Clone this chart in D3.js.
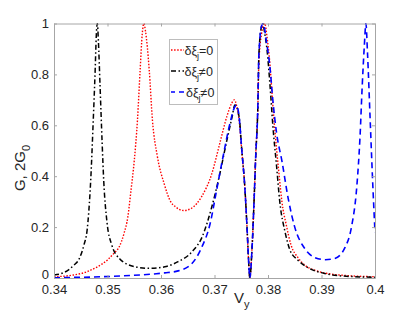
<!DOCTYPE html>
<html>
<head>
<meta charset="utf-8">
<script src="https://cdn.jsdelivr.net/npm/d3@7"></script>
<style>
  body { margin: 0; background: #fff; }
  svg { display: block; font-family: "Liberation Sans", Arial, Helvetica, sans-serif; }
</style>
</head>
<body>
<svg id="graph"></svg>
<script>
// tick values and labels
var xTicks = [0.34, 0.35, 0.36, 0.37, 0.38, 0.39, 0.4];
var xTickLabels = ["0.34", "0.35", "0.36", "0.37", "0.38", "0.39", "0.4"];
var yTicks = [0, 0.2, 0.4, 0.6, 0.8, 1];
var yTickLabels = ["0", "0.2", "0.4", "0.6", "0.8", "1"];

var redPts = [
  [0.34, 0.005], [0.3437, 0.012], [0.3462, 0.025], [0.3481, 0.044], [0.3500, 0.071],
  [0.3512, 0.097], [0.3522, 0.123], [0.3531, 0.176], [0.3538, 0.24], [0.3544, 0.346],
  [0.3550, 0.46], [0.3556, 0.62], [0.3561, 0.817], [0.3565, 0.96], [0.3568, 1.0],
  [0.3571, 0.97], [0.3578, 0.817], [0.3584, 0.62], [0.3593, 0.48], [0.3606, 0.37],
  [0.3618, 0.30], [0.3627, 0.28], [0.3642, 0.265], [0.3657, 0.274], [0.3676, 0.32],
  [0.3695, 0.41], [0.3710, 0.53], [0.3723, 0.634], [0.3732, 0.686], [0.3737, 0.70],
  [0.3741, 0.68], [0.3746, 0.62], [0.3751, 0.50], [0.3757, 0.346], [0.3761, 0.19],
  [0.3764, 0.058], [0.3766, 0.0], [0.3770, 0.11], [0.3774, 0.306], [0.3777, 0.477],
  [0.3781, 0.67], [0.3783, 0.85], [0.3788, 0.96], [0.3792, 0.995], [0.3794, 1.0],
  [0.3798, 0.95], [0.3804, 0.83], [0.3809, 0.68], [0.3815, 0.53], [0.3821, 0.40],
  [0.3826, 0.30], [0.3834, 0.21], [0.3843, 0.13], [0.3856, 0.08], [0.3869, 0.05],
  [0.3888, 0.03], [0.3916, 0.016], [0.3944, 0.01], [0.4, 0.005]
];

var blackPts = [
  [0.34, 0.012], [0.3419, 0.022], [0.3437, 0.05], [0.3447, 0.075], [0.3456, 0.13],
  [0.3462, 0.19], [0.3465, 0.26], [0.3469, 0.40], [0.3473, 0.60], [0.3477, 0.82],
  [0.3479, 0.95], [0.3481, 1.0], [0.3483, 0.93], [0.3486, 0.76], [0.3490, 0.53],
  [0.3493, 0.38], [0.3499, 0.22], [0.3508, 0.13], [0.3523, 0.075], [0.3550, 0.045],
  [0.3579, 0.038], [0.3607, 0.044], [0.3632, 0.064], [0.3658, 0.103], [0.3677, 0.162],
  [0.3695, 0.28], [0.3710, 0.41], [0.3723, 0.54], [0.3733, 0.634], [0.3738, 0.68],
  [0.3746, 0.634], [0.3751, 0.503], [0.3757, 0.346], [0.3761, 0.19], [0.3764, 0.058],
  [0.3766, 0.0], [0.3770, 0.11], [0.3774, 0.306], [0.3777, 0.477], [0.3781, 0.673],
  [0.3783, 0.88], [0.3788, 0.99], [0.3790, 1.0], [0.3794, 0.96], [0.3798, 0.9],
  [0.3804, 0.75], [0.3809, 0.6], [0.3816, 0.44], [0.3822, 0.3], [0.3832, 0.18],
  [0.3841, 0.11], [0.3856, 0.07], [0.3875, 0.04], [0.3906, 0.018], [0.3938, 0.008],
  [0.4, 0.003]
];

var bluePts = [
  [0.34, 0.001], [0.3525, 0.008], [0.3587, 0.016], [0.3607, 0.02], [0.3632, 0.028],
  [0.3657, 0.055], [0.3676, 0.12], [0.3692, 0.215], [0.3704, 0.346], [0.3716, 0.477],
  [0.3729, 0.608], [0.3738, 0.673], [0.3741, 0.68], [0.3746, 0.634], [0.3751, 0.503],
  [0.3757, 0.346], [0.3761, 0.19], [0.3764, 0.058], [0.3766, 0.0], [0.3770, 0.11],
  [0.3774, 0.306], [0.3777, 0.477], [0.3781, 0.673], [0.3783, 0.88], [0.3788, 0.99],
  [0.3791, 1.0], [0.3797, 0.93], [0.3804, 0.82], [0.3809, 0.70], [0.3816, 0.57],
  [0.3826, 0.46], [0.3838, 0.31], [0.3850, 0.2], [0.3869, 0.115], [0.3888, 0.08],
  [0.3907, 0.072], [0.3925, 0.077], [0.3944, 0.12], [0.3956, 0.2], [0.3966, 0.36],
  [0.3972, 0.555], [0.3976, 0.75], [0.3980, 0.91], [0.3983, 1.0], [0.3986, 0.883],
  [0.3991, 0.62], [0.3996, 0.36], [0.4, 0.18]
];

var seriesNames = ["=0", "\u22600", "\u22600"];

function drawChart(){
    var w = 415, h = 313;
    var left = 54, right = 375, top = 23.5, bottom = 278;

    var svg = d3.select("#graph")
        .attr("width", w)
        .attr("height", h);

    var x = d3.scaleLinear().domain([0.34, 0.4]).range([left, right]);
    var y = d3.scaleLinear().domain([0, 1]).range([bottom, top]);

    svg.append("clipPath").attr("id", "plotClip")
        .append("rect")
        .attr("x", left).attr("y", top - 0.5)
        .attr("width", right - left).attr("height", bottom - top + 0.5);

    // curves
    var line = d3.line()
        .x(function(d){ return x(d[0]); })
        .y(function(d){ return y(d[1]); })
        .curve(d3.curveMonotoneX);

    var styles = [
        {pts: redPts,   color: "#ff0000", dash: "1.5,1.6", width: 1.4},
        {pts: blackPts, color: "#000000", dash: "5,2.5,1.5,2.5", width: 1.5},
        {pts: bluePts,  color: "#0000ff", dash: "6,4", width: 1.6}
    ];

    var curves = svg.append("g").attr("clip-path", "url(#plotClip)");
    styles.forEach(function(s){
        curves.append("path")
            .attr("d", line(s.pts))
            .attr("fill", "none")
            .attr("stroke", s.color)
            .attr("stroke-width", s.width)
            .attr("stroke-dasharray", s.dash);
    });

    // axes, MATLAB like box with inward ticks
    var axisColor = "#262626";
    var boxColor = "#a6a6a6";

    var gx = svg.append("g")
        .attr("transform", "translate(0," + bottom + ")")
        .call(d3.axisBottom(x).tickValues(xTicks).tickSize(-3).tickSizeOuter(0).tickPadding(7)
            .tickFormat(function(d, i){ return xTickLabels[i]; }));
    var gy = svg.append("g")
        .attr("transform", "translate(" + left + ",0)")
        .call(d3.axisLeft(y).tickValues(yTicks).tickSize(-3).tickSizeOuter(0).tickPadding(5)
            .tickFormat(function(d, i){ return yTickLabels[i]; }));
    var gt = svg.append("g")
        .attr("transform", "translate(0," + top + ")")
        .call(d3.axisTop(x).tickValues(xTicks).tickSize(-3).tickSizeOuter(0).tickFormat(""));
    var gr = svg.append("g")
        .attr("transform", "translate(" + right + ",0)")
        .call(d3.axisRight(y).tickValues(yTicks).tickSize(-3).tickSizeOuter(0).tickFormat(""));

    [gx, gy, gt, gr].forEach(function(g){
        g.selectAll(".domain").attr("stroke", boxColor).attr("stroke-width", 1);
        g.selectAll(".tick line").attr("stroke", boxColor);
        g.selectAll("text").attr("fill", axisColor).attr("font-size", 13)
            .attr("font-family", "Liberation Sans, Arial, sans-serif");
    });
    // the "0" of the y axis sits a little higher so it clears "0.34"
    gy.selectAll(".tick text").filter(function(d){ return d === 0; }).attr("dy", "0.05em");

    // axis labels
    var xl = svg.append("text")
        .attr("x", 234).attr("y", 303)
        .attr("font-size", 15)
        .attr("fill", axisColor);
    xl.append("tspan").text("V");
    xl.append("tspan").attr("font-size", 11).attr("dy", 5).text("y");

    var yl = svg.append("text")
        .attr("text-anchor", "middle")
        .attr("transform", "translate(25,168) rotate(-90)")
        .attr("font-size", 15)
        .attr("fill", axisColor);
    yl.append("tspan").text("G, 2G");
    yl.append("tspan").attr("font-size", 11).attr("dy", 5).text("0");

    // legend
    var lg = svg.append("g");
    lg.append("rect")
        .attr("x", 169.5).attr("y", 39.5)
        .attr("width", 48).attr("height", 65)
        .attr("fill", "#fff")
        .attr("stroke", "#bdbdbd")
        .attr("stroke-width", 1);

    styles.forEach(function(s, i){
        var yy = 50 + i * 21;
        lg.append("line")
            .attr("x1", 171).attr("x2", 184)
            .attr("y1", yy).attr("y2", yy)
            .attr("stroke", s.color)
            .attr("stroke-width", s.width)
            .attr("stroke-dasharray", s.dash)
            .attr("stroke-dashoffset", i == 2 ? 2 : 0);
        var t = lg.append("text")
            .attr("x", i == 2 ? 186 : 184.5).attr("y", yy + 4.5)
            .attr("font-size", 12.5)
            .attr("fill", axisColor);
        t.append("tspan").text("\u03b4\u03be");
        t.append("tspan").attr("font-size", 9).attr("dy", 4).text("j");
        t.append("tspan").attr("dy", -4).text(seriesNames[i]);
    });
}

drawChart();
</script>
</body>
</html>
